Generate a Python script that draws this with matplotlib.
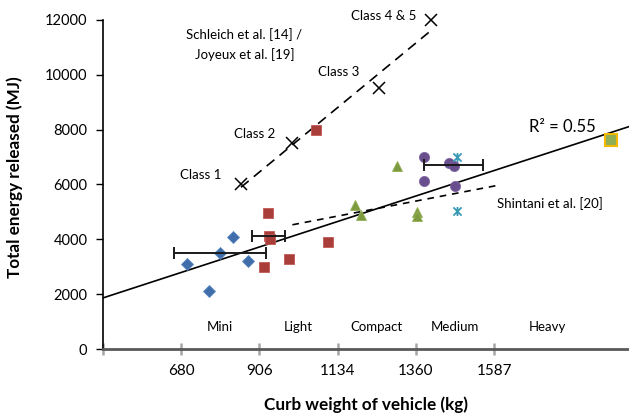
import numpy as np
import matplotlib
matplotlib.use('Agg')
import matplotlib.pyplot as plt
from matplotlib.path import Path

plt.rcParams['font.family'] = ['Lato', 'DejaVu Sans']

# curb weight (kg) vs. total energy released (MJ), grouped by vehicle class
mini_x = [698, 762, 793, 831, 875]
mini_y = [3100, 2100, 3500, 4100, 3200]
light_x = [932, 934, 938, 922, 993, 1107, 1071]
light_y = [4950, 4130, 4000, 3000, 3300, 3900, 8000]
compact_x = [1184, 1202, 1363, 1363, 1307]
compact_y = [5260, 4870, 5000, 4850, 6670]
medium_x = [1385, 1458, 1470, 1385, 1475]
medium_y = [7000, 6790, 6670, 6130, 5950]
star_x = [1480, 1480]
star_y = [7000, 5020]
heavy_x = [1926]
heavy_y = [7620]

# horizontal spread bars: centre x, centre y, half width
err_x = [793, 934, 1470]
err_y = [3500, 4130, 6720]
err_w = [133, 48, 85]

# Schleich / Joyeux design classes
class_x = [854, 1002, 1254, 1405]
class_y = [6000, 7500, 9500, 12000]
class_names = ['Class 1', 'Class 2', 'Class 3', 'Class 4 & 5']

# Shintani et al. reference line
shintani_x = [1003, 1607]
shintani_y = [4530, 5990]

# overall trend line y = a*x (R^2 = 0.55)
trend_slope = 4.1

# x axis: ticks every 500 lb, labelled in kg
tick_lb = np.array([1000, 1500, 2000, 2500, 3000, 3500])
tick_labels = ['', '680', '906', '1134', '1360', '1587']
size_classes = ['Mini', 'Light', 'Compact', 'Medium', 'Heavy']
size_class_x = [793, 1020, 1247, 1474, 1743]

# spreadsheet-style asterisk: an x with a vertical stroke
star = Path([(-1, -1), (1, 1), (-1, 1), (1, -1), (0, -1.1), (0, 1.1)],
            [Path.MOVETO, Path.LINETO] * 3)

fig = plt.figure(figsize=(6.29, 4.15), dpi=100)
ax = fig.add_axes([0.1633, 0.159, 0.8367, 0.793])
ax.set_xlim(453.6, 1978)
ax.set_ylim(0, 12000)

# trend line across the full width
xl = np.array(ax.get_xlim())
ax.plot(xl, trend_slope * xl, color='k', lw=1.2, zorder=2)

# class trend (least squares through the class points)
a, b = np.polyfit(class_x, class_y, 1)
cx = np.array([min(class_x), max(class_x)])
ax.plot(cx, a * cx + b, color='k', lw=1.2, dashes=(6, 4), zorder=2)
ax.plot(class_x, class_y, 'x', color='k', ms=8, mew=1.1, zorder=3, clip_on=False)

ax.plot(shintani_x, shintani_y, color='k', lw=1.2, dashes=(4, 3.5), zorder=2)

ax.errorbar(err_x, err_y, xerr=err_w, fmt='none', ecolor='#1a1a1a',
            elinewidth=1.4, capsize=4, capthick=1.4, zorder=4)

ax.plot(mini_x, mini_y, 'D', color='#3f6eaa', ms=6, mec='#5a86c0', mew=0.6, zorder=3)
ax.plot(light_x, light_y, 's', color='#a83d3a', ms=7, mec='#c05a56', mew=0.6, zorder=3)
ax.plot(compact_x, compact_y, '^', color='#7d9a3f', ms=7.5, mec='#93b056', mew=0.6, zorder=3)
ax.plot(medium_x, medium_y, 'o', color='#6a4f8f', ms=7.3, mec='#7f66a2', mew=0.6, zorder=3)
ax.plot(star_x, star_y, marker=star, ls='none', color='#3a9ab5', ms=6.5, mew=1.3, zorder=3)
ax.plot(heavy_x, heavy_y, 's', color='#8fae55', ms=8, mec='#f5b800', mew=1.5, zorder=3)

# annotations
fs = 9.5
ax.text(863, 11480, 'Schleich et al. [14] /', fontsize=fs, ha='center', va='center')
ax.text(866, 10727, 'Joyeux et al. [19]', fontsize=fs, ha='center', va='center')
label_pos = [(738, 6327), (895, 7843), (1136, 10108), (1266, 12145)]
for name, (tx, ty) in zip(class_names, label_pos):
    ax.text(tx, ty, name, fontsize=fs, ha='center', va='center', clip_on=False)
ax.text(1785, 8108, 'R² = 0.55', fontsize=12, ha='center', va='center')
ax.text(1748, 5320, 'Shintani et al. [20]', fontsize=fs, ha='center', va='center')
for name, tx in zip(size_classes, size_class_x):
    ax.text(tx, 800, name, fontsize=fs, ha='center', va='center')

# axes styling
ax.spines['top'].set_visible(False)
ax.spines['right'].set_visible(False)
ax.spines['left'].set_linewidth(1.2)
ax.spines['bottom'].set_color('#595959')
ax.spines['bottom'].set_linewidth(2)
ax.set_xticks(tick_lb * 0.45359237)
ax.set_xticklabels(tick_labels)
ax.tick_params(axis='x', direction='inout', length=9, width=1.8, color='#a6a6a6',
               pad=6.5, labelsize=11)
ax.set_yticks(np.arange(0, 12001, 2000))
ax.tick_params(axis='y', direction='out', length=5, width=1, pad=6, labelsize=10.5)
ax.set_xlabel('Curb weight of vehicle (kg)', fontsize=12.3, fontweight='bold', labelpad=13)
ax.set_ylabel('Total energy released (MJ)', fontsize=12.3, fontweight='bold')
ax.yaxis.set_label_coords(-0.151, 0.521)

fig.savefig('out.png', dpi=100)
